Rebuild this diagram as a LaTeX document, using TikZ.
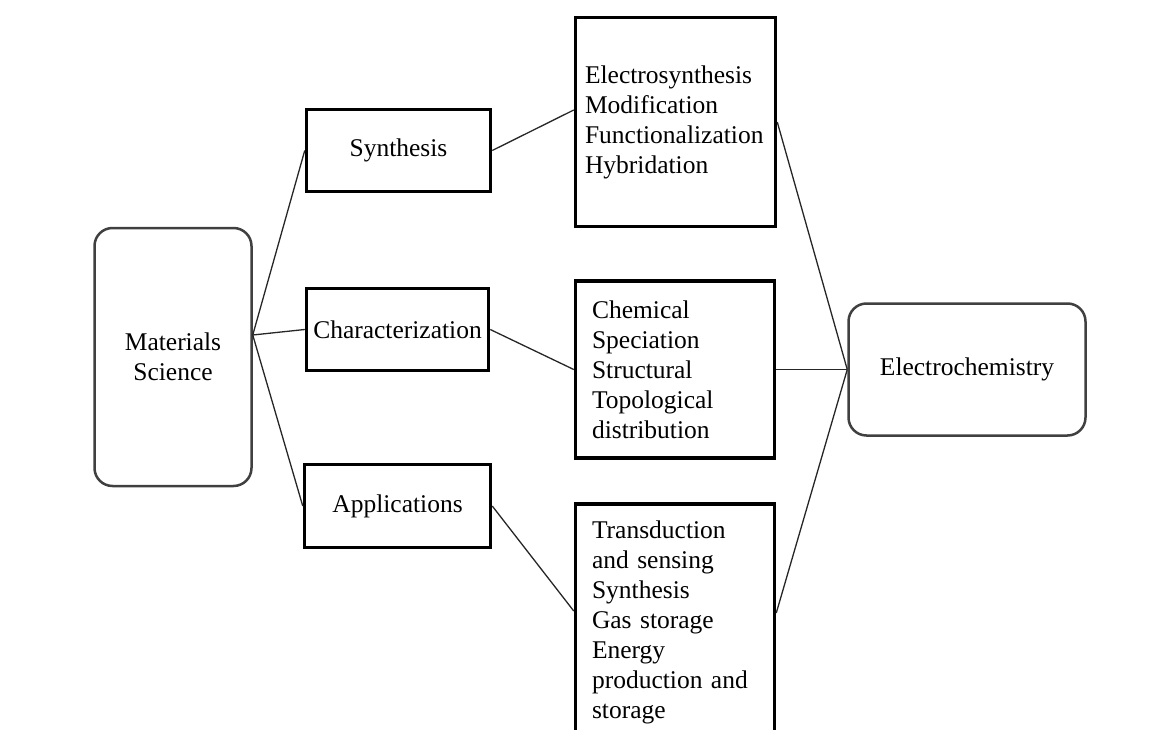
\documentclass[tikz,border=0pt]{standalone}
\usepackage{fontspec}
\setmainfont{Liberation Serif}
\usetikzlibrary{positioning}

\begin{document}
\begin{tikzpicture}[x=1pt, y=-1pt,
	txt/.style={font=\fontsize{25.5}{30}\selectfont, inner sep=0pt},
	box/.style={txt, draw=black, line width=3.5pt},
	listbox/.style={box, align=left, text width=166pt},
	roundbox/.style={txt, draw=black!75, line width=2.5pt, rounded corners=18pt, align=center},
	link/.style={draw=black!85, line width=1.3pt}]
	\useasboundingbox (0,0) rectangle (1161,730);

	% left
	\node [roundbox, minimum width=157pt, minimum height=258pt] (ms) at (173,357) {Materials\\Science};
	% middle
	\node [box, minimum width=184pt, minimum height=82pt] (syn) at (398.5,150.5) {Synthesis};
	\node [box, minimum width=182pt, minimum height=82pt] (cha) at (397.5,329.5) {Characterization};
	\node [box, minimum width=186pt, minimum height=83pt] (app) at (397.5,506) {Applications};
	% lists
	\node [listbox, text width=181pt, minimum width=200pt, minimum height=209pt] (lst1) at (675.5,122)
		{Electrosynthesis\\Modification\\Functionalization\\Hybridation};
	\node [listbox, minimum width=199pt, minimum height=177pt] (lst2) at (675,369.5)
		{Chemical\\Speciation\\Structural\\Topological\\distribution};
	\node [listbox, minimum width=199pt, minimum height=236pt] (lst3) at (675,622)
		{Transduction\\and sensing\\Synthesis\\Gas storage\\Energy\\production and\\storage};
	% right
	\node [roundbox, minimum width=237pt, minimum height=132pt] (ec) at (967,369.5) {Electrochemistry};

	\coordinate (msj) at ([yshift=22pt]ms.east);
	\coordinate (l1w) at ([yshift=12pt]lst1.west);
	\coordinate (l3w) at ([yshift=11pt]lst3.west);
	\coordinate (l3e) at ([yshift=9pt]lst3.east);

	% ms
	\draw [link] (msj) -- (syn.west);
	\draw [link] (msj) -- (cha.west);
	\draw [link] (msj) -- (app.west);
	% middle
	\draw [link] (syn.east) -- (l1w);
	\draw [link] (cha.east) -- (lst2.west);
	\draw [link] (app.east) -- (l3w);
	% ec
	\draw [link] (lst1.east) -- (ec.west);
	\draw [link] (lst2.east) -- (ec.west);
	\draw [link] (l3e) -- (ec.west);
\end{tikzpicture}
\end{document}
